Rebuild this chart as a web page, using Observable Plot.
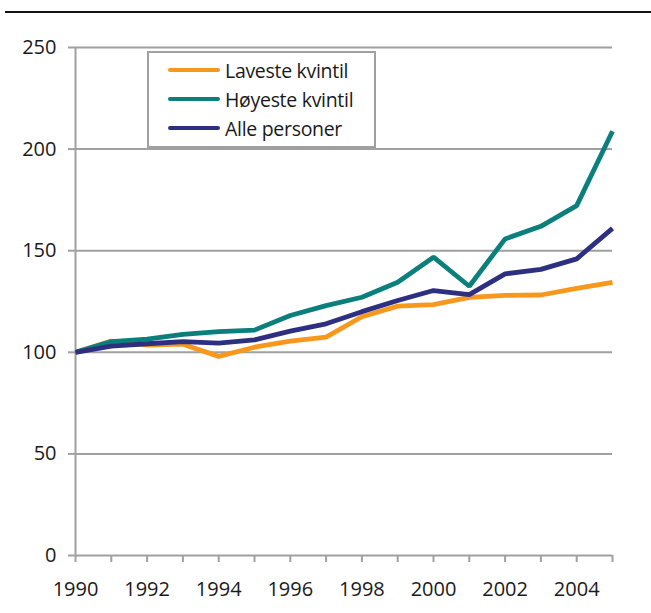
<!DOCTYPE html>
<html>
<head>
<meta charset="utf-8">
<script src="https://cdn.jsdelivr.net/npm/d3@7"></script>
<script src="https://cdn.jsdelivr.net/npm/@observablehq/plot@0.6"></script>
<style>
  html, body { margin: 0; padding: 0; background: #fff; }
  #wrap { position: relative; width: 651px; height: 613px; overflow: hidden; font-family: "Open Sans", sans-serif; }
  #topline { position: absolute; left: 5px; right: 0; top: 11px; height: 2px; background: #111; }
  #legend { position: absolute; left: 147px; top: 51px; width: 225px; height: 93px; border: 2px solid #a0a0a0; background: #fff; }
  .row { position: absolute; left: 0; height: 26px; display: flex; align-items: center; font-size: 19.5px; color: #1a1a1a; letter-spacing: -0.3px; white-space: nowrap; }
  .sw { width: 52px; height: 4px; border-radius: 2px; margin-left: 19px; margin-right: 5px; }
</style>
</head>
<body>
<div id="wrap">
  <div id="chart"></div>
  <div id="topline"></div>
  <div id="legend"></div>
</div>
<script>
const years = [1990,1991,1992,1993,1994,1995,1996,1997,1998,1999,2000,2001,2002,2003,2004,2005];
const seriesNames = ["Laveste kvintil", "Høyeste kvintil", "Alle personer"];
const seriesColors = ["#f7981d", "#0b7f7c", "#2d3081"];
const laveste = [100,105.5,103.5,104,98,102.5,105.5,107.5,117.5,122.7,123.5,127,128,128.2,131.5,134.4];
const hoyeste = [100,105.3,106.5,108.8,110.2,110.9,118.1,123,127.1,134.5,146.8,132.5,155.8,162,172.2,208.8];
const alle    = [100,103,104.2,105.3,104.5,106.1,110.4,114,120,125.5,130.4,128.4,138.6,140.8,146,161];
const yTicks = [0,50,100,150,200,250];
const xLabelTicks = [1990,1992,1994,1996,1998,2000,2002,2004];

const values = [laveste, hoyeste, alle];
const data = [];
seriesNames.forEach((s, i) => years.forEach((yr, j) => data.push({series: s, year: yr, value: values[i][j]})));

const grid = "#a0a0a0";
const chart = Plot.plot({
  width: 651,
  height: 613,
  marginLeft: 75,
  marginRight: 39,
  marginTop: 47,
  marginBottom: 58,
  style: {fontFamily: "Open Sans, sans-serif", fontSize: "20px", color: "#1a1a1a", background: "#fff"},
  x: {domain: [1990, 2005]},
  y: {domain: [0, 250]},
  color: {domain: seriesNames, range: seriesColors},
  marks: [
    Plot.ruleY(yTicks, {stroke: grid, strokeWidth: 2}),
    Plot.ruleX([1990], {stroke: grid, strokeWidth: 2}),
    Plot.axisY({ticks: yTicks, tickSize: 7, tickPadding: 12, stroke: grid, strokeWidth: 2, strokeOpacity: 1, label: null, fontSize: 20}),
    Plot.axisX({ticks: years, tickSize: 7, tickFormat: () => "", stroke: grid, strokeWidth: 2, strokeOpacity: 1, label: null}),
    Plot.axisX({ticks: xLabelTicks, tickSize: 0, tickPadding: 26, tickFormat: d => String(d), label: null, fontSize: 20}),
    Plot.line(data, {x: "year", y: "value", z: "series", stroke: "series", strokeWidth: 4.8, strokeLinejoin: "miter", strokeLinecap: "butt"})
  ]
});
document.getElementById("chart").appendChild(chart);

const legend = document.getElementById("legend");
const rowTops = [4, 33, 62];
seriesNames.forEach((s, i) => {
  const row = document.createElement("div");
  row.className = "row";
  row.style.top = rowTops[i] + "px";
  const sw = document.createElement("div");
  sw.className = "sw";
  sw.style.background = seriesColors[i];
  const t = document.createElement("span");
  t.textContent = s;
  row.appendChild(sw);
  row.appendChild(t);
  legend.appendChild(row);
});
</script>
</body>
</html>
